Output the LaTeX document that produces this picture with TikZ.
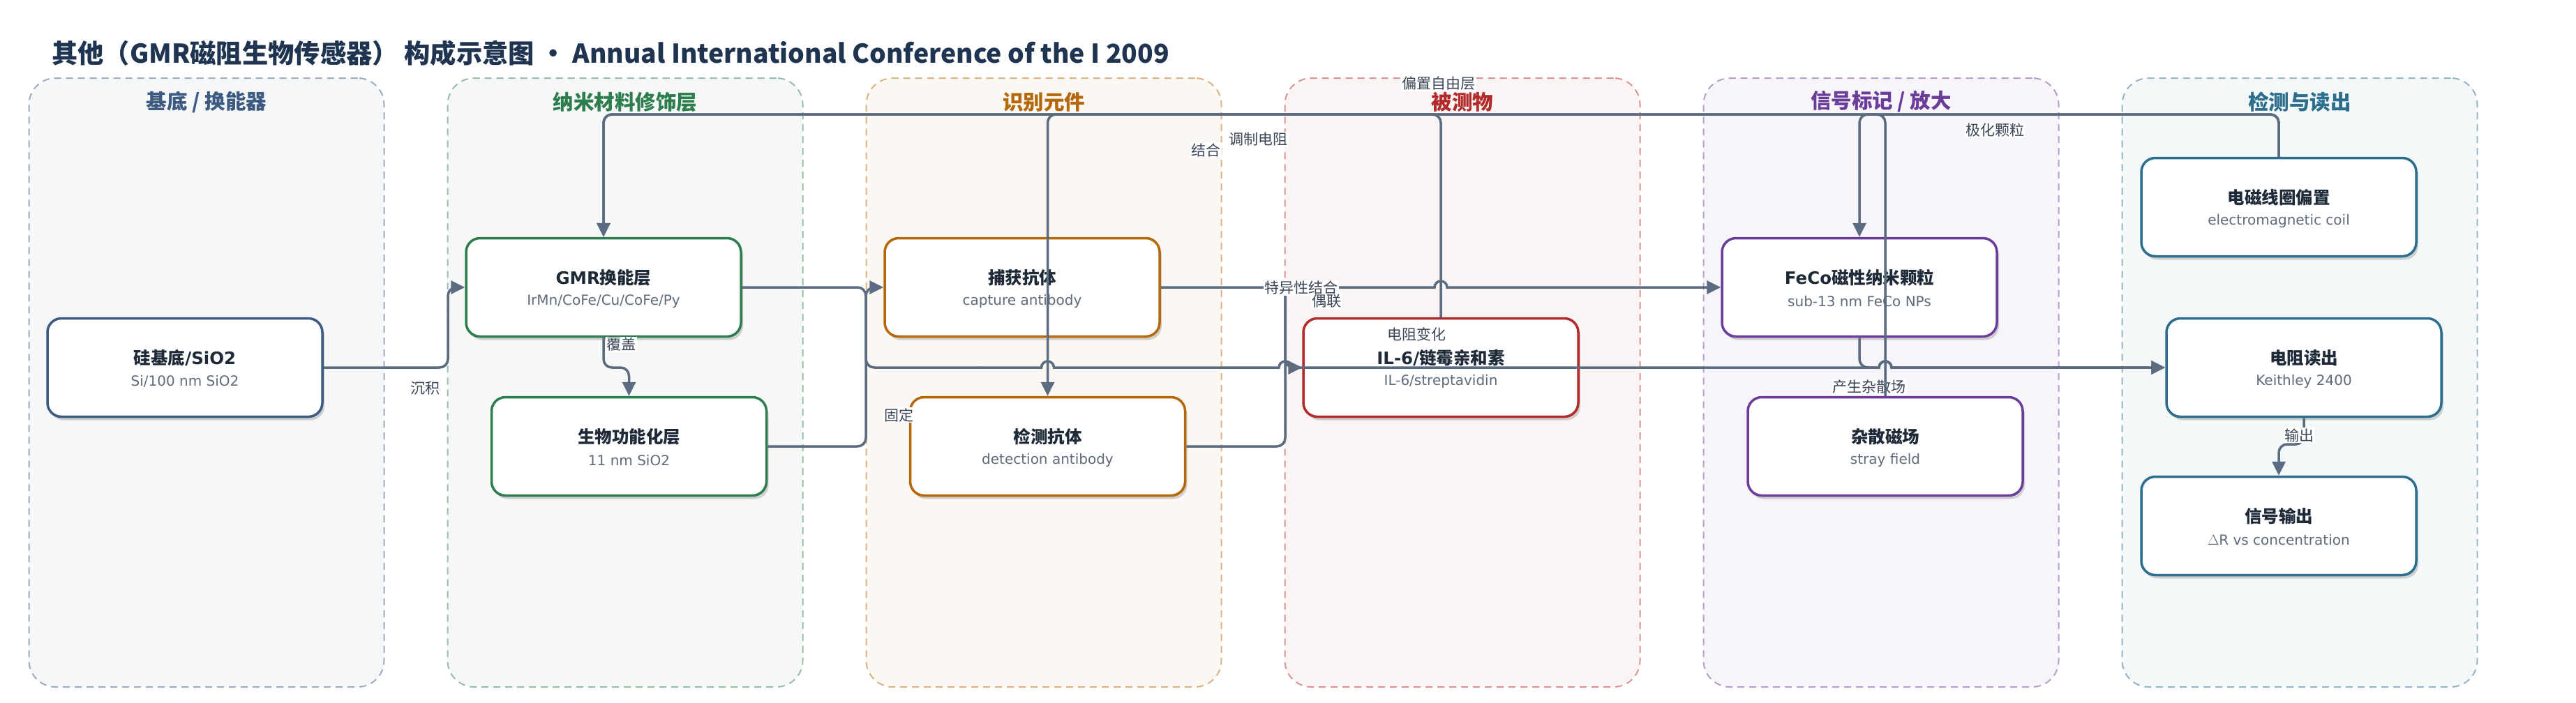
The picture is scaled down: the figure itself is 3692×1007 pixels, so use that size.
\documentclass[tikz,border=0pt]{standalone}
\usepackage{fontspec}
\setmainfont{DejaVu Sans}
\newfontfamily\cjk{Noto Sans CJK SC}
\usetikzlibrary{arrows.meta,shadows,calc}
\definecolor{edgec}{HTML}{5B6B80}
\definecolor{gA}{HTML}{3D5A80}
\definecolor{gB}{HTML}{2E7D4F}
\definecolor{gC}{HTML}{B5680A}
\definecolor{gD}{HTML}{B22A2A}
\definecolor{gE}{HTML}{6A3D9A}
\definecolor{gF}{HTML}{2C6E8E}
\definecolor{ttl}{HTML}{1F3450}
\definecolor{nodetxt}{HTML}{1E2A38}
\definecolor{subtxt}{HTML}{5F6B7A}
\definecolor{lbltxt}{HTML}{3A4556}
\tikzset{
  grp/.style={draw=#1!50!white, fill=#1!5!white, dash pattern=on 10pt off 7pt, line width=2pt, rounded corners=38pt, minimum width=509pt, minimum height=873pt, inner sep=0pt},
  grptitle/.style={font=\cjk\bfseries\fontsize{29.5}{32}\selectfont, text=#1, inner sep=0pt},
  boxst/.style={draw=#1, line width=3.5pt, fill=white, rounded corners=20pt, minimum width=394pt, minimum height=141pt, inner sep=0pt,
    drop shadow={shadow xshift=3pt, shadow yshift=-5pt, opacity=0.16, fill=black}},
  bt/.style={font=\bfseries\fontsize{24.5}{28}\selectfont, text=nodetxt, inner sep=0pt},
  st/.style={font=\fontsize{20}{24}\selectfont, text=subtxt, inner sep=0pt},
  conn/.style={draw=edgec, line width=3.5pt, rounded corners=12pt, -{Triangle[length=20pt,width=19pt]}},
  plainconn/.style={draw=edgec, line width=3.5pt, rounded corners=12pt},
  jumpconn/.style={draw=edgec, line width=3.5pt, sharp corners, -{Triangle[length=20pt,width=19pt]}},
  lbl/.style={font=\cjk\fontsize{21}{24}\selectfont, text=lbltxt, fill=white, inner sep=1.5pt}
}
\newcommand{\bx}[6]{%
  \node[boxst=#2] (#1) at (#3,#4) {};
  \node[bt] (#1-t) at (#3,#4-14) {#5};
  \node[st] (#1-s) at (#3,#4+20) {#6};
}
\newcommand{\jmp}{arc[start angle=180,end angle=0,radius=9pt]}
\begin{document}
\begin{tikzpicture}[x=1pt,y=-1pt]
\useasboundingbox[fill=white] (0,0) rectangle (3692,1007);
% title
\node[anchor=west, font=\cjk\bfseries\fontsize{37.3}{42}\selectfont, text=ttl, inner sep=0pt] (title) at (74,76) {其他（GMR磁阻生物传感器） 构成示意图 · Annual International Conference of the I 2009};
% containers
\node[grp=gA] (cA) at (296,548.5) {};
\node[grp=gB] (cB) at (896,548.5) {};
\node[grp=gC] (cC) at (1496,548.5) {};
\node[grp=gD] (cD) at (2096,548.5) {};
\node[grp=gE] (cE) at (2696,548.5) {};
\node[grp=gF] (cF) at (3296,548.5) {};
\node[grptitle=gA] (tA) at (296,146) {基底 / 换能器};
\node[grptitle=gB] (tB) at (896,146) {纳米材料修饰层};
\node[grptitle=gC] (tC) at (1496,146) {识别元件};
\node[grptitle=gD] (tD) at (2096,146) {被测物};
\node[grptitle=gE] (tE) at (2696,146) {信号标记 / 放大};
\node[grptitle=gF] (tF) at (3296,146) {检测与读出};
% nodes
\bx{sub}{gA}{265}{527}{{\cjk 硅基底}/SiO2}{Si/100 nm SiO2}
\bx{gmr}{gB}{865}{412}{GMR{\cjk 换能层}}{IrMn/CoFe/Cu/CoFe/Py}
\bx{bio}{gB}{901.5}{640}{{\cjk 生物功能化层}}{11 nm SiO2}
\bx{cap}{gC}{1465}{412}{{\cjk 捕获抗体}}{capture antibody}
\bx{det}{gC}{1501.5}{640}{{\cjk 检测抗体}}{detection antibody}
\bx{il6}{gD}{2065}{527}{IL-6/{\cjk 链霉亲和素}}{IL-6/streptavidin}
\bx{feco}{gE}{2665}{412}{FeCo{\cjk 磁性纳米颗粒}}{sub-13 nm FeCo NPs}
\bx{stray}{gE}{2702}{640}{{\cjk 杂散磁场}}{stray field}
\bx{coil}{gF}{3266}{297}{{\cjk 电磁线圈偏置}}{electromagnetic coil}
\bx{readout}{gF}{3302}{527}{{\cjk 电阻读出}}{Keithley 2400}
\bx{output}{gF}{3266}{754}{{\cjk 信号输出}}{$\Delta$R vs concentration}
\coordinate (yt) at (0,164);
\coordinate (e4a) at (1400,527);
\coordinate (e7a) at (1950,412);
\coordinate (e8a) at (2682,527);
% connectors
\draw[conn] (sub.east) -- (642,527) |- (gmr.west);
\draw[conn] (gmr.south) -- (865,527) -| (bio.north);
\draw[conn] (bio.east) -- (1241,640) |- (cap.west);
\draw[plainconn] (gmr.east) -- (1241,412) -- (1241,527) -- (e4a);
\draw[jumpconn] (e4a) -- (1492.5,527) \jmp -- (1833,527) \jmp -- (2693,527) \jmp -- (readout.west);
\draw[conn] (cap.east) -- (1842,412) -- (1842,527) -- (il6.west);
\draw[conn] (il6.north) -- (il6.north |- yt) -| (det.north);
\draw[plainconn] (det.east) -- (1842,640) -- (1842,412) -- (e7a);
\draw[jumpconn] (e7a) -- (2056,412) \jmp -- (feco.west);
\draw[plainconn] (feco.south) -- (2665,527) -- (e8a);
\draw[jumpconn] (e8a) -- (2693,527) \jmp -- (readout.west);
\draw[conn] (coil.north) -- (coil.north |- yt) -| (feco.north);
\draw[conn] (coil.north) -- (coil.north |- yt) -| (gmr.north);
\draw[conn] (readout.south) -- (3302,637) -| (output.north);
% labels
\node[lbl] (l1) at (609,557) {沉积};
\node[lbl] (l2) at (890,494) {覆盖};
\node[lbl] (l3) at (1288,595) {固定};
\node[lbl] (l4) at (1728,215) {结合};
\node[lbl] (l5) at (1803,200) {调制电阻};
\node[lbl] (l6) at (2062,120) {偏置自由层};
\node[lbl] (l7) at (1865,413) {特异性结合};
\node[lbl] (l8) at (1901,432) {偶联};
\node[lbl] (l9) at (2030,479) {电阻变化};
\node[lbl] (l10) at (2859,187) {极化颗粒};
\node[lbl] (l11) at (2679,555) {产生杂散场};
\node[lbl] (l12) at (3295,624) {输出};
% stray field -> GMR drawn last
\draw[conn] (stray.north) -- (stray.north |- yt) -| (gmr.north);
\end{tikzpicture}
\end{document}
